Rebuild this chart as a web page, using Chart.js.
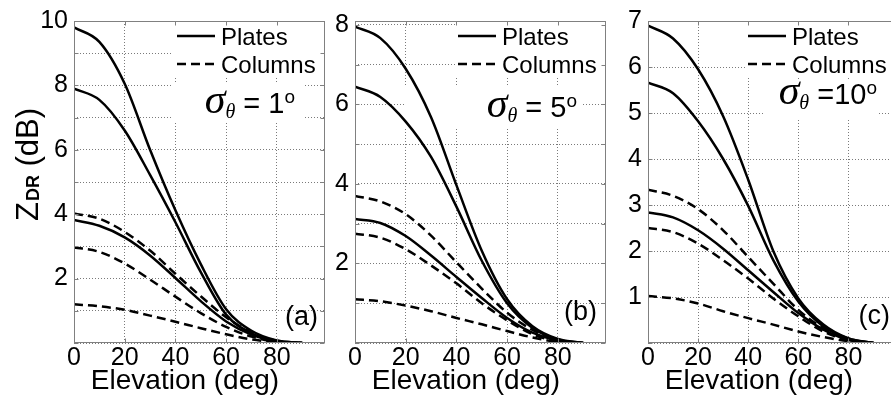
<!DOCTYPE html>
<html>
<head>
<meta charset="utf-8" />
<title>ZDR vs elevation</title>
<script src="https://cdn.jsdelivr.net/npm/chart.js"></script>
<style>
    body { margin: 0; background: #fff; }
    #figure { position: relative; width: 891px; height: 402px; overflow: hidden; background: #fff; }
    #figure canvas { position: absolute; top: 0; }
</style>
</head>
<body>
<div id="figure">
    <canvas id="panelA" width="330" height="402" style="left:0px"></canvas>
    <canvas id="panelB" width="282" height="402" style="left:330px"></canvas>
    <canvas id="panelC" width="290" height="402" style="left:612px"></canvas>
</div>

<script>
// elevation angle (deg), shared by every curve
const elevation = [0, 10, 20, 30, 40, 50, 60, 70, 80, 90];

// (a) sigma = 1 deg
const platesA1 = [9.8, 9.35, 8.05, 6.0, 4.12, 2.45, 1.05, 0.38, 0.08, 0];
const platesA2 = [7.9, 7.55, 6.6, 5.22, 3.75, 2.2, 0.88, 0.3, 0.07, 0];
const platesA3 = [3.82, 3.64, 3.28, 2.72, 2.02, 1.3, 0.67, 0.26, 0.05, 0];
const columnsA1 = [4.02, 3.86, 3.45, 2.87, 2.15, 1.45, 0.8, 0.33, 0.05, 0];
const columnsA2 = [2.97, 2.83, 2.47, 1.97, 1.44, 0.93, 0.5, 0.2, 0.04, 0];
const columnsA3 = [1.2, 1.14, 1.03, 0.85, 0.66, 0.46, 0.27, 0.11, 0.03, 0];

// (b) sigma = 5 deg
const platesB1 = [7.96, 7.67, 6.9, 5.68, 3.97, 2.32, 1.1, 0.42, 0.1, 0];
const platesB2 = [6.45, 6.19, 5.57, 4.68, 3.43, 2.07, 1.0, 0.38, 0.09, 0];
const platesB3 = [3.12, 3.02, 2.69, 2.2, 1.66, 1.13, 0.63, 0.26, 0.06, 0];
const columnsB1 = [3.7, 3.56, 3.24, 2.7, 2.03, 1.37, 0.76, 0.33, 0.06, 0];
const columnsB2 = [2.75, 2.65, 2.36, 1.95, 1.5, 1.0, 0.57, 0.22, 0.04, 0];
const columnsB3 = [1.1, 1.05, 0.94, 0.8, 0.63, 0.47, 0.3, 0.14, 0.03, 0];

// (c) sigma = 10 deg
const platesC1 = [6.9, 6.62, 5.95, 4.93, 3.55, 2.0, 0.97, 0.4, 0.1, 0];
const platesC2 = [5.66, 5.43, 4.82, 4.0, 2.98, 1.8, 0.9, 0.36, 0.1, 0];
const platesC3 = [2.84, 2.73, 2.45, 2.05, 1.58, 1.11, 0.65, 0.29, 0.07, 0];
const columnsC1 = [3.33, 3.2, 2.91, 2.45, 1.87, 1.29, 0.72, 0.32, 0.07, 0];
const columnsC2 = [2.5, 2.41, 2.16, 1.8, 1.4, 0.97, 0.58, 0.25, 0.06, 0];
const columnsC3 = [1.02, 0.97, 0.86, 0.69, 0.54, 0.4, 0.25, 0.13, 0.04, 0];

// axis ticks: grid every step, labels only on some of them
const xTicks = [0, 20, 40, 60, 80];
const yGridA = [0, 1, 2, 3, 4, 5, 6, 7, 8, 9, 10];
const yLabelsA = [2, 4, 6, 8, 10];
const yGridB = [0, 1, 2, 3, 4, 5, 6, 7, 8];
const yLabelsB = [2, 4, 6, 8];
const yGridC = [0, 1, 2, 3, 4, 5, 6, 7];
const yLabelsC = [1, 2, 3, 4, 5, 6, 7];

const legendLabels = ['Plates', 'Columns'];
const xTitle = 'Elevation (deg)';

const SANS = '"Liberation Sans", Arial, sans-serif';
const SERIF = '"Liberation Serif", "Times New Roman", serif';
const boxGray = '#808080';

// draws the MATLAB style box, legend, sigma note, panel letter and axis titles
const panelDecor = {
    id: 'panelDecor',
    beforeDatasetsDraw(chart, args, o) {
        const ctx = chart.ctx, a = chart.chartArea;
        ctx.save();
        ctx.fillStyle = '#fff';
        o.blanks.forEach(function (b) {
            ctx.fillRect(a.right - b[0], a.top + b[1], b[0] - b[2], b[3] - b[1]);
        });
        ctx.restore();
    },
    afterDraw(chart, args, o) {
        const ctx = chart.ctx, a = chart.chartArea;
        const xs = chart.scales.x, ys = chart.scales.y;
        ctx.save();

        // box + inward ticks
        ctx.strokeStyle = boxGray;
        ctx.lineWidth = 1;
        const L = Math.round(a.left) + 0.5, R = Math.round(a.right) - 0.5;
        const T = Math.round(a.top) + 0.5, B = Math.round(a.bottom) - 0.5;
        ctx.strokeRect(L, T, R - L, B - T);
        ctx.beginPath();
        ys.ticks.forEach(function (t) {
            const y = Math.round(ys.getPixelForValue(t.value)) + 0.5;
            ctx.moveTo(L, y); ctx.lineTo(L + 4, y);
            ctx.moveTo(R, y); ctx.lineTo(R - 4, y);
        });
        xs.ticks.forEach(function (t) {
            const x = Math.round(xs.getPixelForValue(t.value)) + 0.5;
            ctx.moveTo(x, B); ctx.lineTo(x, B - 4);
            ctx.moveTo(x, T); ctx.lineTo(x, T + 4);
        });
        ctx.stroke();

        // legend
        const lx = a.right - 148;
        const ly = [a.top + 15, a.top + 43];
        ctx.strokeStyle = '#000';
        ctx.lineWidth = 2.5;
        ctx.setLineDash([]);
        ctx.beginPath(); ctx.moveTo(lx, ly[0]); ctx.lineTo(lx + 38, ly[0]); ctx.stroke();
        ctx.setLineDash([9, 5]);
        ctx.beginPath(); ctx.moveTo(lx, ly[1]); ctx.lineTo(lx + 38, ly[1]); ctx.stroke();
        ctx.setLineDash([]);
        ctx.fillStyle = '#000';
        ctx.font = '24px ' + SANS;
        ctx.textAlign = 'left';
        ctx.textBaseline = 'alphabetic';
        ctx.fillText(legendLabels[0], a.right - 104, ly[0] + 8.5);
        ctx.fillText(legendLabels[1], a.right - 104, ly[1] + 8.5);

        // sigma_theta = n deg
        const parts = [
            { t: '\u03C3', f: 'italic 42px ' + SERIF, dy: 0 },
            { t: '\u03B8', f: 'italic 20px ' + SERIF, dy: 5 },
            { t: o.sigmaText, f: '29px ' + SANS, dy: 0 },
            { t: 'o', f: '19px ' + SANS, dy: -10 }
        ];
        let total = 0;
        parts.forEach(function (p) { ctx.font = p.f; p.w = ctx.measureText(p.t).width; total += p.w; });
        let sx = a.right - o.sigmaRight - total;
        const sy = a.top + o.sigmaBase;
        parts.forEach(function (p) { ctx.font = p.f; ctx.fillText(p.t, sx, sy + p.dy); sx += p.w; });

        // panel letter
        ctx.font = '27px ' + SANS;
        ctx.textAlign = 'right';
        ctx.textBaseline = 'middle';
        ctx.fillText(o.letter, a.right - o.letterRight, a.bottom - o.letterUp);

        // x title
        ctx.font = '28px ' + SANS;
        ctx.textAlign = 'center';
        ctx.textBaseline = 'alphabetic';
        ctx.fillText(xTitle, a.left + 111, 389);

        // y title with subscript, only on the first panel
        if (o.yTitle) {
            ctx.translate(38, 221);
            ctx.rotate(-Math.PI / 2);
            ctx.textAlign = 'left';
            ctx.font = '31px ' + SANS;
            ctx.fillText('Z', 0, 0);
            let w = ctx.measureText('Z').width;
            ctx.font = 'bold 18px ' + SANS;
            ctx.fillText('DR', w + 1, 1);
            w += ctx.measureText('DR').width + 1;
            ctx.font = '31px ' + SANS;
            ctx.fillText(' (dB)', w, 0);
        }
        ctx.restore();
    }
};

function lineSet(values, dashed) {
    return {
        data: values.map(function (v, i) { return { x: elevation[i], y: v }; }),
        borderColor: '#000',
        borderWidth: 2.5,
        borderDash: dashed ? [9, 5] : [],
        pointRadius: 0,
        cubicInterpolationMode: 'monotone',
        fill: false
    };
}

function makePanel(id, p) {
    const canvas = document.getElementById(id);
    const W = canvas.width, H = canvas.height;
    return new Chart(canvas.getContext('2d'), {
        type: 'line',
        data: {
            datasets: p.plates.map(function (v) { return lineSet(v, false); })
                .concat(p.columns.map(function (v) { return lineSet(v, true); }))
        },
        options: {
            responsive: false,
            animation: false,
            layout: { padding: { left: 0, top: p.top, right: W - p.right, bottom: 0 } },
            plugins: {
                legend: { display: false },
                tooltip: { enabled: false },
                panelDecor: p.notes
            },
            scales: {
                x: {
                    type: 'linear',
                    min: 0,
                    max: 99,
                    afterBuildTicks: function (s) { s.ticks = xTicks.map(function (v) { return { value: v }; }); },
                    afterFit: function (s) { s.height = H - p.bottom; },
                    ticks: { font: { family: SANS, size: 25 }, color: '#000', padding: 0, maxRotation: 0, autoSkip: false },
                    grid: { color: '#7a7a7a', lineWidth: 1, drawTicks: false },
                    border: { display: false, dash: [1, 2] }
                },
                y: {
                    type: 'linear',
                    min: 0,
                    max: p.yMax,
                    afterBuildTicks: function (s) { s.ticks = p.yGrid.map(function (v) { return { value: v }; }); },
                    afterFit: function (s) { s.width = p.left; },
                    ticks: {
                        font: { family: SANS, size: 25 }, color: '#000', padding: 6, autoSkip: false,
                        callback: function (v) { return p.yLabels.indexOf(v) >= 0 ? String(v) : ''; }
                    },
                    grid: { color: '#7a7a7a', lineWidth: 1, drawTicks: false },
                    border: { display: false, dash: [1, 2] }
                }
            }
        },
        plugins: [panelDecor]
    });
}

makePanel('panelA', {
    left: 74, right: 325, top: 16, bottom: 343, yMax: 10,
    yGrid: yGridA, yLabels: yLabelsA,
    plates: [platesA1, platesA2, platesA3],
    columns: [columnsA1, columnsA2, columnsA3],
    notes: {
        blanks: [[153, 1, 1, 57], [153, 62, 20, 102]],
        sigmaText: ' = 1', sigmaRight: 30, sigmaBase: 92,
        letter: '(a)', letterRight: 7, letterUp: 25, yTitle: true
    }
});

makePanel('panelB', {
    left: 25, right: 276, top: 17, bottom: 343, yMax: 8.1,
    yGrid: yGridB, yLabels: yLabelsB,
    plates: [platesB1, platesB2, platesB3],
    columns: [columnsB1, columnsB2, columnsB3],
    notes: {
        blanks: [[151, 1, 1, 57], [201, 66, 23, 106]],
        sigmaText: ' = 5', sigmaRight: 29, sigmaBase: 96,
        letter: '(b)', letterRight: 9, letterUp: 30, yTitle: false
    }
});

makePanel('panelC', {
    left: 36, right: 284, top: 19, bottom: 343, yMax: 7,
    yGrid: yGridC, yLabels: yLabelsC,
    plates: [platesC1, platesC2, platesC3],
    columns: [columnsC1, columnsC2, columnsC3],
    notes: {
        blanks: [[151, 1, 1, 57], [133, 58, 19, 98]],
        sigmaText: ' =10', sigmaRight: 19, sigmaBase: 83,
        letter: '(c)', letterRight: 6, letterUp: 26, yTitle: false
    }
});
</script>
</body>
</html>
